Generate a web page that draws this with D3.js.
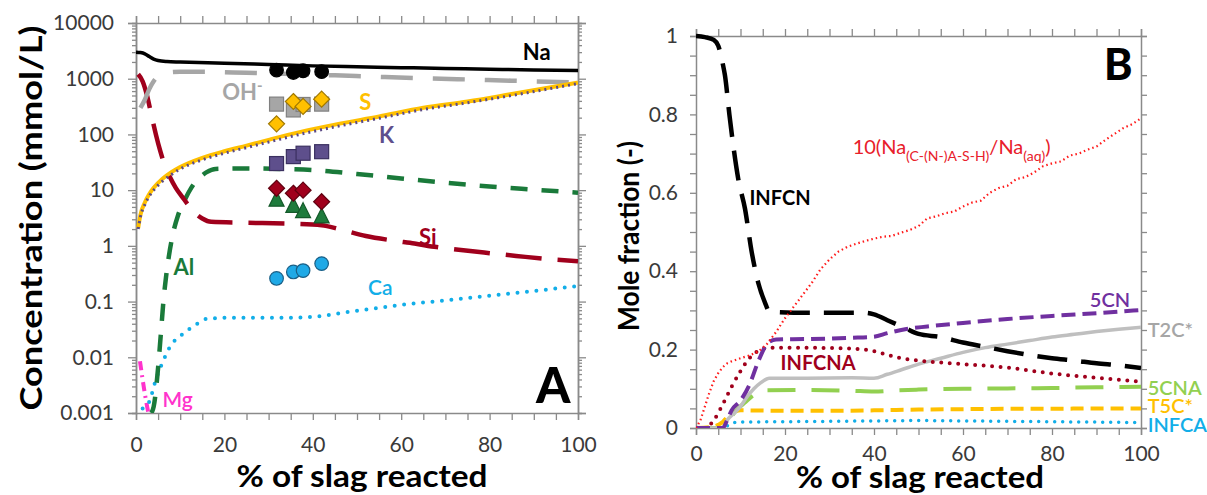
<!DOCTYPE html>
<html><head><meta charset="utf-8">
<script src="https://cdn.jsdelivr.net/npm/d3@7"></script>
<style>
html,body{margin:0;padding:0;background:#fff;}
svg{display:block;font-family:Lato,"Open Sans",sans-serif;}
.tick text{font-variant-numeric:tabular-nums;}
</style></head>
<body>
<svg id="chart" width="1207" height="495"></svg>
<script>
// ---------- DATA: panel A (concentration, mmol/L vs % slag reacted) ----------
const naLine = [[0,3000],[1,2950],[2,2800],[3,2500],[4,2250],[5,2120],[7,2030],[10,1990],[20,1900],[30,1800],[40,1700],[50,1640],[60,1580],[70,1530],[80,1480],[90,1440],[100,1400]];
const ohLine = [[1,300],[2,420],[3,650],[4,900],[5,1100],[7,1280],[10,1330],[15,1330],[25,1280],[35,1220],[45,1150],[55,1080],[65,1020],[75,970],[85,920],[100,860]];
const sLine  = [[0.5,2.1],[1,3.6],[2,6],[3,8.5],[4,11],[6,16],[8,21],[10,26],[15,38],[20,50],[25,63],[30,80],[37,110],[45,150],[55,210],[65,300],[75,390],[85,530],[100,850]];
const kLine  = [[0.5,2.0],[1,3.3],[2,5.5],[3,7.8],[4,10],[6,14.5],[8,19],[10,24],[15,35],[20,46],[25,58],[30,73],[37,100],[45,137],[55,195],[65,280],[75,370],[85,500],[100,820]];
const siLine = [[0.5,1200],[1.5,900],[2.5,500],[3.5,220],[4.5,100],[5.5,50],[6.5,28],[7.7,17],[9,11],[10.5,7.5],[12,5.2],[13.5,3.8],[15,3.1],[17,2.7],[25,2.6],[35,2.5],[42,2.35],[46,2.0],[52,1.5],[58,1.25],[63,1.1],[68,0.95],[73,0.85],[80,0.74],[86,0.66],[93,0.58],[100,0.53]];
const alLine = [[3.5,0.001],[4,0.0013],[5,0.0065],[5.6,0.025],[6.2,0.1],[6.8,0.28],[7.3,0.55],[8.4,1.7],[9.5,3.5],[11,6.6],[12.5,11],[14.5,17],[16,21],[18,24],[25,24.5],[33,24],[40,23],[50,19.5],[60,16.2],[70,13.6],[80,11.6],[90,10.2],[100,9]];
const caLine = [[1.5,0.0012],[3,0.0016],[4.5,0.004],[6,0.008],[7.7,0.0155],[10.3,0.025],[12.5,0.034],[14.5,0.043],[16,0.049],[20,0.051],[30,0.051],[40,0.053],[45,0.06],[52,0.072],[60,0.087],[70,0.105],[80,0.127],[90,0.155],[100,0.19]];
const mgLine = [[0.9,0.0085],[1.5,0.004],[2.1,0.002],[2.8,0.001]];

// measured points (x = % slag reacted)
const expX  = [31.8, 35.6, 37.8, 42];
const expNa = [1430, 1290, 1390, 1340];
const expOH = [350, 275, 345, 350];
const expS  = [155, 390, 318, 430];
const expK  = [30, 40, 46, 49];
const expSi = [10.8, 8.8, 10, 6.2];
const expAl = [6.6, 5.1, 4.1, 3.3];
const expCa = [0.26, 0.34, 0.36, 0.48];

// ---------- DATA: panel B (mole fraction vs % slag reacted) ----------
const infcn  = [[0,1.0],[2,0.997],[4,0.99],[5,0.975],[6,0.93],[6.5,0.9],[7.5,0.8],[8.5,0.71],[9.5,0.635],[11,0.56],[12.5,0.45],[14,0.37],[15.5,0.32],[16.5,0.297],[25,0.294],[38,0.294],[40,0.29],[43,0.275],[47,0.255],[50,0.24],[55,0.232],[60,0.218],[65,0.207],[70,0.196],[75,0.186],[80,0.178],[85,0.172],[90,0.165],[95,0.16],[100,0.153]];
const naRatio = [[0,0],[1,0.02],[2,0.055],[3,0.09],[4,0.12],[5,0.14],[6,0.155],[7,0.165],[8,0.17],[10,0.178],[12,0.185],[14,0.195],[15,0.205],[16,0.215],[18,0.245],[20,0.28],[22,0.31],[24,0.34],[26,0.37],[28,0.405],[30,0.43],[32,0.45],[34,0.462],[36,0.47],[38,0.477],[40,0.483],[42,0.488],[44,0.49],[46,0.498],[48,0.505],[50,0.515],[52,0.535],[54,0.54],[56,0.548],[58,0.552],[60,0.565],[62,0.575],[64,0.58],[66,0.6],[68,0.612],[70,0.618],[72,0.635],[74,0.64],[76,0.652],[78,0.668],[80,0.675],[82,0.68],[84,0.695],[86,0.7],[88,0.71],[90,0.718],[92,0.735],[94,0.75],[96,0.765],[98,0.775],[100,0.79]];
const cn5    = [[0,0],[6,0],[7,0.02],[8,0.045],[10,0.07],[12,0.11],[14,0.17],[16,0.215],[18,0.226],[25,0.227],[35,0.23],[40,0.233],[43,0.242],[47,0.252],[52,0.259],[60,0.268],[70,0.278],[80,0.286],[90,0.293],[100,0.301]];
const infcna = [[0,0],[2,0],[4,0.02],[6,0.06],[8,0.105],[10,0.145],[12,0.178],[14,0.197],[16,0.204],[20,0.205],[30,0.204],[38,0.2],[42,0.19],[46,0.178],[50,0.172],[60,0.163],[70,0.154],[80,0.139],[90,0.128],[100,0.118]];
const t2c    = [[0,0],[6,0],[7,0.02],[8.5,0.037],[10,0.055],[11.5,0.08],[13,0.1],[14.5,0.115],[16.5,0.127],[25,0.127],[35,0.128],[40,0.127],[43,0.137],[46,0.148],[50,0.163],[55,0.178],[60,0.193],[65,0.205],[70,0.214],[75,0.223],[80,0.232],[85,0.239],[90,0.246],[95,0.252],[100,0.257]];
const cna5   = [[0,0],[6.5,0],[8,0.03],[9.5,0.05],[11,0.065],[12.5,0.08],[14,0.09],[16,0.096],[25,0.097],[35,0.095],[40,0.093],[45,0.096],[50,0.098],[60,0.1],[70,0.101],[80,0.102],[90,0.104],[100,0.105]];
const t5c    = [[0,0],[3,0.002],[5,0.008],[6,0.015],[7,0.028],[8,0.038],[9,0.043],[10,0.045],[20,0.044],[30,0.044],[40,0.045],[50,0.047],[60,0.048],[70,0.049],[80,0.049],[90,0.05],[100,0.05]];
const infca  = [[0,0],[6,0],[7,0.005],[8,0.012],[10,0.015],[20,0.016],[40,0.018],[50,0.019],[60,0.018],[80,0.016],[100,0.014]];

// ---------- tick labels ----------
const xTickVals = [0,20,40,60,80,100];
const yTickValsA = [0.001,0.01,0.1,1,10,100,1000,10000];
const yTickLabelsA = ["0.001","0.01","0.1","1","10","100","1000","10000"];
const yTickValsB = [0,0.2,0.4,0.6,0.8,1];
const yTickLabelsB = ["0","0.2","0.4","0.6","0.8","1"];

// ---------- drawing ----------
const svg = d3.select("#chart");
const axisColor = "#8a8a8a", labelColor = "#3a3a3a";

function styleAxis(g){
  g.select(".domain").attr("stroke", axisColor).attr("stroke-width", 1.5);
  g.selectAll(".tick line").attr("stroke", axisColor).attr("stroke-width", 1.3);
  g.selectAll(".tick text").attr("fill", labelColor).style("font-size","21px").style("font-family","Lato, sans-serif");
}

// ===== Panel A =====
const xA = d3.scaleLinear().domain([0,100]).range([136,578]);
const yA = d3.scaleLog().domain([0.001,10000]).range([413,23]);
const minorLog = [];
yTickValsA.slice(0,-1).forEach(d => { for (let k=2;k<10;k++) minorLog.push(d*k); });
const x5 = d3.range(0,101,5);

const gA = svg.append("g");
gA.append("g").attr("transform",`translate(0,${yA(0.001)})`)
  .call(d3.axisBottom(xA).tickValues(x5).tickSize(7).tickFormat(d => xTickVals.includes(d)? d3.format("d")(d):"").tickPadding(17))
  .call(styleAxis);
gA.append("g").attr("transform",`translate(0,${yA(10000)})`)
  .call(d3.axisTop(xA).tickValues(x5).tickSize(7).tickFormat(""))
  .call(styleAxis);
gA.append("g").attr("transform",`translate(${xA(0)},0)`)
  .call(d3.axisLeft(yA).tickValues(yTickValsA).tickSize(8).tickPadding(14).tickFormat((d,i)=>yTickLabelsA[i]))
  .call(styleAxis);
gA.append("g").attr("transform",`translate(${xA(0)},0)`)
  .call(d3.axisLeft(yA).tickValues(minorLog).tickSize(4).tickFormat(""))
  .call(styleAxis);
gA.append("g").attr("transform",`translate(${xA(100)},0)`)
  .call(d3.axisRight(yA).tickValues(yTickValsA).tickSize(8).tickFormat(""))
  .call(styleAxis);
gA.append("g").attr("transform",`translate(${xA(100)},0)`)
  .call(d3.axisRight(yA).tickValues(minorLog).tickSize(4).tickFormat(""))
  .call(styleAxis);

svg.append("clipPath").attr("id","clipA").append("rect")
  .attr("x",xA(0)).attr("y",yA(10000)).attr("width",xA(100)-xA(0)).attr("height",yA(0.001)-yA(10000));

const lineA = d3.line().x(d=>xA(d[0])).y(d=>yA(d[1])).curve(d3.curveMonotoneX);
const plotA = gA.append("g").attr("clip-path","url(#clipA)");
function drawA(data, color, width, dash, cap){
  plotA.append("path").datum(data).attr("d", lineA).attr("fill","none")
    .attr("stroke", color).attr("stroke-width", width)
    .attr("stroke-dasharray", dash || null).attr("stroke-linecap", cap || "butt");
}
drawA(mgLine, "#ff33cc", 4, "9,5,2,5");
drawA(caLine, "#12aee8", 4, "0,9.5", "round");
drawA(alLine, "#1a7a3a", 4.5, "17,14");
drawA(siLine, "#a0001c", 4.5, "36,16");
drawA(ohLine, "#a6a6a6", 4.5, "32,20");
drawA(sLine, "#ffc000", 4);
drawA(kLine, "#5b4a86", 3, "2,4");
drawA(naLine, "#000000", 3.5);

const mk = gA.append("g");
function circles(vals, fill, stroke){
  mk.selectAll(null).data(vals).join("circle")
    .attr("cx",(d,i)=>xA(expX[i])).attr("cy",d=>yA(d)).attr("r",6.8)
    .attr("fill",fill).attr("stroke",stroke).attr("stroke-width",1.2);
}
function squares(vals, fill, stroke){
  mk.selectAll(null).data(vals).join("rect")
    .attr("x",(d,i)=>xA(expX[i])-7).attr("y",d=>yA(d)-7).attr("width",14).attr("height",14)
    .attr("fill",fill).attr("stroke",stroke).attr("stroke-width",1.2);
}
function diamonds(vals, fill, stroke){
  mk.selectAll(null).data(vals).join("path")
    .attr("d",(d,i)=>{const x=xA(expX[i]), y=yA(d), r=8; return `M${x},${y-r}L${x+r},${y}L${x},${y+r}L${x-r},${y}Z`;})
    .attr("fill",fill).attr("stroke",stroke).attr("stroke-width",1.2);
}
function triangles(vals, fill, stroke){
  mk.selectAll(null).data(vals).join("path")
    .attr("d",(d,i)=>{const x=xA(expX[i]), y=yA(d); return `M${x},${y-9}L${x+7.5},${y+6}L${x-7.5},${y+6}Z`;})
    .attr("fill",fill).attr("stroke",stroke).attr("stroke-width",1.2);
}
squares(expOH, "#a6a6a6", "#808080");
diamonds(expS, "#ffc000", "#a07800");
squares(expK, "#5e4f8c", "#3b3060");
triangles(expAl, "#1e7b3c", "#145a2a");
diamonds(expSi, "#a0001c", "#600010");
circles(expNa, "#000000", "#000000");
circles(expCa, "#1fa9e6", "#1a5f86");

const labA = [
  {t:"Na", x:87.5, y:2150, c:"#000", w:"bold", s:22},
  {t:"S", x:50.5, y:274, c:"#ffc000", w:"bold", s:22},
  {t:"K", x:55, y:70, c:"#5e4f8c", w:"bold", s:22},
  {t:"Si", x:64, y:1.05, c:"#a0001c", w:"bold", s:22},
  {t:"Al", x:8.5, y:0.3, c:"#1a7a3a", w:"bold", s:22},
  {t:"Ca", x:52.5, y:0.13, c:"#12aee8", w:"600", s:21},
  {t:"Mg", x:6, y:0.00128, c:"#ff33cc", w:"600", s:21}
];
labA.forEach(l => gA.append("text").attr("x",xA(l.x)).attr("y",yA(l.y)).text(l.t)
  .attr("fill",l.c).style("font-weight",l.w).style("font-size",l.s+"px"));
const oh = gA.append("text").attr("x",xA(19.5)).attr("y",yA(420)).attr("fill","#a6a6a6").style("font-weight","bold").style("font-size","22px");
oh.append("tspan").text("OH");
oh.append("tspan").text("-").attr("dy",-9).style("font-size","15px");
gA.append("text").attr("x",xA(90.5)).attr("y",403).text("A").style("font-weight","900").style("font-size","49px").attr("fill","#000");

gA.append("text").attr("x",362).attr("y",487).attr("text-anchor","middle")
  .attr("textLength",251).attr("lengthAdjust","spacingAndGlyphs")
  .style("font-weight","bold").style("font-size","30px").attr("fill","#000").text("% of slag reacted");
gA.append("text").attr("transform","translate(42,218) rotate(-90)").attr("text-anchor","middle")
  .attr("textLength",385).attr("lengthAdjust","spacingAndGlyphs")
  .style("font-weight","bold").style("font-size","31px").attr("fill","#000").text("Concentration (mmol/L)");

// ===== Panel B =====
const xB = d3.scaleLinear().domain([0,100]).range([696,1141]);
const yB = d3.scaleLinear().domain([0,1]).range([428,36]);
const yMinorB = d3.range(0,1.0001,0.05);
const gB = svg.append("g");
gB.append("g").attr("transform",`translate(0,${yB(0)})`)
  .call(d3.axisBottom(xB).tickValues(x5).tickSize(7).tickPadding(11).tickFormat(d => xTickVals.includes(d)? d3.format("d")(d):""))
  .call(styleAxis);
gB.append("g").attr("transform",`translate(0,${yB(1)})`)
  .call(d3.axisTop(xB).tickValues(x5).tickSize(7).tickFormat(""))
  .call(styleAxis);
gB.append("g").attr("transform",`translate(${xB(0)},0)`)
  .call(d3.axisLeft(yB).tickValues(yMinorB).tickSize(6).tickPadding(12).tickFormat(d => { const i = yTickValsB.findIndex(v=>Math.abs(v-d)<1e-9); return i>=0? yTickLabelsB[i] : ""; }))
  .call(styleAxis);
gB.append("g").attr("transform",`translate(${xB(100)},0)`)
  .call(d3.axisRight(yB).tickValues(yMinorB).tickSize(6).tickFormat(""))
  .call(styleAxis);

svg.append("clipPath").attr("id","clipB").append("rect")
  .attr("x",xB(0)).attr("y",yB(1)-3).attr("width",xB(100)-xB(0)).attr("height",yB(0)-yB(1)+3);
const plotB = gB.append("g").attr("clip-path","url(#clipB)");
function drawB(data, color, width, dash, cap, curve){
  const ln = d3.line().x(d=>xB(d[0])).y(d=>yB(d[1])).curve(curve || d3.curveMonotoneX);
  plotB.append("path").datum(data).attr("d", ln).attr("fill","none")
    .attr("stroke", color).attr("stroke-width", width)
    .attr("stroke-dasharray", dash || null).attr("stroke-linecap", cap || "butt");
}
drawB(infca, "#12aee8", 3.5, "0,8", "round");
drawB(t5c, "#ffc000", 4, "13,7");
drawB(cna5, "#92d050", 4, "28,16");
drawB(t2c, "#bfbfbf", 3.5);
drawB(infcna, "#a0001c", 4, "0,8.5", "round");
drawB(cn5, "#7030a0", 4, "14,7");
drawB(infcn, "#000000", 4.5, "30,14");
drawB(naRatio, "#ff1a1a", 2.2, "1.5,3", "butt", d3.curveLinear);

const labB = [
  {t:"INFCN", x:12, y:0.57, c:"#000", w:"bold", s:20},
  {t:"INFCNA", x:19, y:0.148, c:"#a0001c", w:"bold", s:20},
  {t:"5CN", x:88.5, y:0.308, c:"#7030a0", w:"600", s:20},
  {t:"T2C*", x:101.5, y:0.232, c:"#a6a6a6", w:"600", s:20},
  {t:"5CNA", x:101.5, y:0.085, c:"#92d050", w:"600", s:20},
  {t:"T5C*", x:101.5, y:0.038, c:"#ffc000", w:"600", s:20},
  {t:"INFCA", x:101.5, y:-0.01, c:"#12aee8", w:"600", s:20}
];
labB.forEach(l => gB.append("text").attr("x",xB(l.x)).attr("y",yB(l.y)).text(l.t)
  .attr("fill",l.c).style("font-weight",l.w).style("font-size",l.s+"px"));
const rt = gB.append("text").attr("x",xB(35.2)).attr("y",yB(0.698)).attr("fill","#e8202a").style("font-size","20px");
rt.append("tspan").text("10(Na");
rt.append("tspan").text("(C-(N-)A-S-H)").attr("dy",7).style("font-size","14px");
rt.append("tspan").text("/Na").attr("dy",-7);
rt.append("tspan").text("(aq)").attr("dy",7).style("font-size","14px");
rt.append("tspan").text(")").attr("dy",-7);
gB.append("text").attr("x",1104).attr("y",80).text("B").style("font-weight","900").style("font-size","43px").attr("fill","#000");

gB.append("text").attr("x",920).attr("y",488).attr("text-anchor","middle")
  .attr("textLength",248).attr("lengthAdjust","spacingAndGlyphs")
  .style("font-weight","bold").style("font-size","30px").attr("fill","#000").text("% of slag reacted");
gB.append("text").attr("transform","translate(639,236) rotate(-90)").attr("text-anchor","middle")
  .attr("textLength",190).attr("lengthAdjust","spacingAndGlyphs")
  .style("font-weight","bold").style("font-size","28px").attr("fill","#000").text("Mole fraction (-)");
</script>
</body></html>
